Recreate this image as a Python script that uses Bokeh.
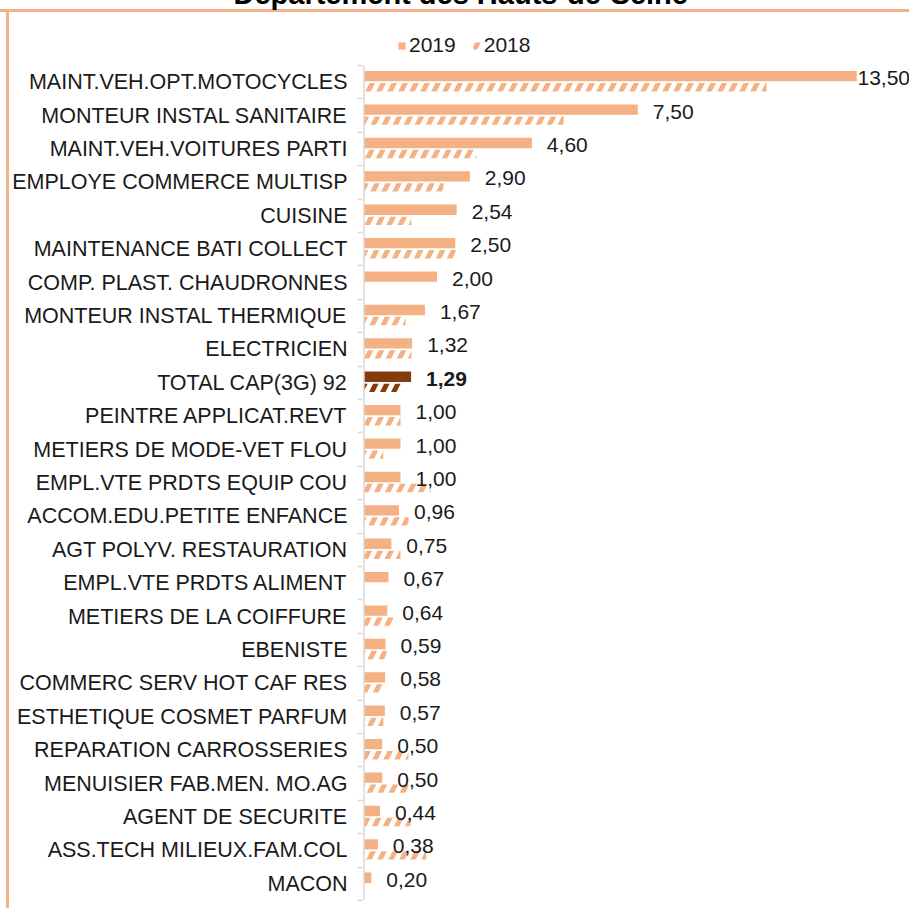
from bokeh.plotting import figure
from bokeh.models import (ColumnDataSource, Range1d, FixedTicker, Legend, LegendItem)
from bokeh.embed import file_html
from bokeh.resources import INLINE
from bokeh.core.properties import value

title_text = "Département des Hauts-de-Seine"

categories = [
    "MAINT.VEH.OPT.MOTOCYCLES", "MONTEUR INSTAL SANITAIRE", "MAINT.VEH.VOITURES PARTI",
    "EMPLOYE COMMERCE MULTISP", "CUISINE", "MAINTENANCE BATI COLLECT",
    "COMP. PLAST. CHAUDRONNES", "MONTEUR INSTAL THERMIQUE", "ELECTRICIEN",
    "TOTAL CAP(3G) 92", "PEINTRE APPLICAT.REVT", "METIERS DE MODE-VET FLOU",
    "EMPL.VTE PRDTS EQUIP COU", "ACCOM.EDU.PETITE ENFANCE", "AGT POLYV. RESTAURATION",
    "EMPL.VTE PRDTS ALIMENT", "METIERS DE LA COIFFURE", "EBENISTE",
    "COMMERC SERV HOT CAF RES", "ESTHETIQUE COSMET PARFUM", "REPARATION CARROSSERIES",
    "MENUISIER FAB.MEN. MO.AG", "AGENT DE SECURITE", "ASS.TECH MILIEUX.FAM.COL", "MACON",
]
v2019 = [13.50, 7.50, 4.60, 2.90, 2.54, 2.50, 2.00, 1.67, 1.32, 1.29, 1.00, 1.00, 1.00,
         0.96, 0.75, 0.67, 0.64, 0.59, 0.58, 0.57, 0.50, 0.50, 0.44, 0.38, 0.20]
v2018 = [11.03, 5.47, 3.08, 2.18, 1.30, 2.51, 0.0, 1.14, 1.30, 1.03, 1.00, 0.53, 1.82,
         1.22, 1.00, 0.0, 0.81, 0.62, 0.53, 0.53, 1.22, 1.22, 1.27, 1.71, 0.0]
total_label = "TOTAL CAP(3G) 92"

ORANGE = "#F4B183"
BROWN = "#843C0C"
GRID = "#D9D9D9"
FONT = "Liberation Sans"

# layout (pixels)
W, H = 909, 908
FRAME_LEFT, FRAME_TOP, FRAME_BOTTOM = 362, 24, 900
ROWS_TOP = 65
PX_PER_UNIT = 36.5

n = len(categories)
row_px = (FRAME_BOTTOM - ROWS_TOP) / n
ypos = [n - 1 - i for i in range(n)]
colors = [BROWN if c == total_label else ORANGE for c in categories]
styles = ["bold" if c == total_label else "normal" for c in categories]
labels = [f"{v:.2f}".replace(".", ",") for v in v2019]

x_start = -1.5 / PX_PER_UNIT
x_end = x_start + (W - FRAME_LEFT) / PX_PER_UNIT
lab_x = [min(v + 0.41, 13.52) for v in v2019]

src = ColumnDataSource(dict(
    y19=[y + 0.18 for y in ypos],
    y18=[y - 0.15 for y in ypos],
    ylab=[y + 0.12 for y in ypos],
    v19=v2019, v18=v2018, c=colors, fs=styles, lab=labels, lx=lab_x,
))

p = figure(width=W, height=H, output_backend="svg", toolbar_location=None,
           x_range=Range1d(x_start, x_end),
           y_range=Range1d(-0.5, n - 0.5 + (ROWS_TOP - FRAME_TOP) / row_px),
           x_axis_location=None, min_border_left=FRAME_LEFT, min_border_right=0,
           min_border_top=FRAME_TOP, min_border_bottom=H - FRAME_BOTTOM)
band = f"linear-gradient({ORANGE},{ORANGE})"
p.styles = {
    "background": f"{band} 0px 9px / 100% 3px no-repeat, {band} 6px 9px / 3px 100% no-repeat, white",
}
p.outline_line_color = None
p.xgrid.visible = False
p.ygrid.visible = False
p.background_fill_alpha = 0
p.border_fill_alpha = 0

p.title.text = title_text
p.title.text_font = FONT
p.title.text_font_size = "29px"
p.title.text_font_style = "bold"
p.title.text_color = "black"
p.title.align = "left"
p.title.vertical_align = "top"
p.title.offset = 233 - FRAME_LEFT
p.title.standoff = -94

r19 = p.hbar(y="y19", left=0, right="v19", height=0.31, fill_color="c",
             line_color=None, source=src)
r18 = p.hbar(y="y18", left=0, right="v18", height=0.25, fill_color=None,
             hatch_pattern="/", hatch_color="c", hatch_weight=5, hatch_scale=22,
             line_color=None, source=src)
p.segment(x0=0, y0=-0.5, x1=0, y1=n - 0.5, line_color=GRID, line_width=1.5)

p.text(x="lx", y="ylab", text="lab", text_font=value(FONT), text_font_size="21px",
       text_font_style="fs", text_baseline="middle", text_align="left",
       text_color="#1a1a1a", source=src)

ax = p.yaxis[0]
ax.ticker = FixedTicker(ticks=ypos, minor_ticks=[y - 0.5 for y in range(n + 1)])
ax.major_label_overrides = {y: c for y, c in zip(ypos, categories)}
ax.major_label_text_font = FONT
ax.major_label_text_font_size = "21.5px"
ax.major_label_text_color = "#1a1a1a"
ax.major_label_standoff = 10
ax.major_tick_in = 0
ax.major_tick_out = 0
ax.minor_tick_in = 0
ax.minor_tick_out = 5
ax.minor_tick_line_color = GRID
ax.minor_tick_line_width = 1.5
ax.axis_line_color = None

legend = Legend(items=[LegendItem(label="2019", renderers=[r19], index=0),
                       LegendItem(label="2018", renderers=[r18], index=0)],
                location=(35, FRAME_BOTTOM - 57), orientation="horizontal",
                glyph_width=9, glyph_height=9,
                label_text_font=FONT, label_text_font_size="21px", label_text_color="#1a1a1a",
                padding=0, margin=0, spacing=16, label_standoff=3,
                border_line_color=None, background_fill_alpha=0)
p.add_layout(legend)

open("out.html", "w").write(file_html(p, INLINE))
